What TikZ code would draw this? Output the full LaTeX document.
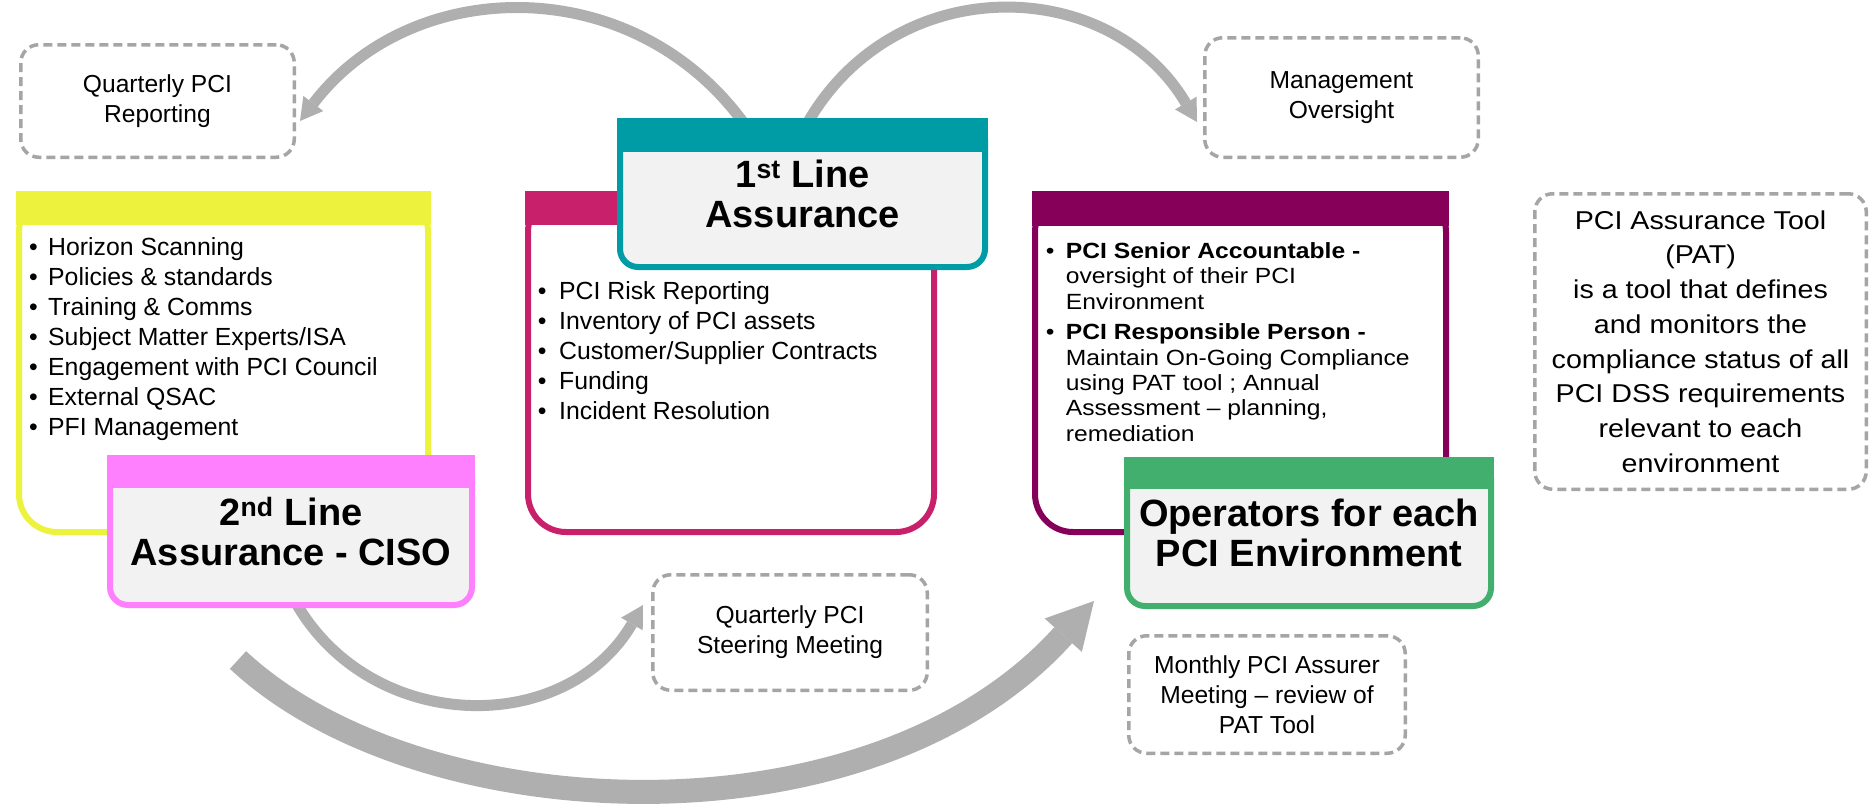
\documentclass[tikz,border=0pt]{standalone}
\usepackage{fontspec}
\setmainfont{Liberation Sans}
\newfontfamily\stretchA[FakeStretch=1.12]{Liberation Sans}
\newfontfamily\stretchB[FakeStretch=1.11]{Liberation Sans}
\usetikzlibrary{arrows.meta}
\definecolor{cyellow}{HTML}{EDF23C}
\definecolor{cpink}{HTML}{FF80FF}
\definecolor{cmagenta}{HTML}{C8206A}
\definecolor{cteal}{HTML}{009CA6}
\definecolor{cpurple}{HTML}{86005A}
\definecolor{cgreen}{HTML}{43AF6E}
\definecolor{carrow}{HTML}{AFAFAF}
\definecolor{cdash}{HTML}{A5A5A5}
\definecolor{ctitle}{HTML}{F2F2F2}
\newcommand{\ylbullet}{\makebox[19pt][l]{\textbullet}}
\newcommand{\mgbullet}{\makebox[21.3pt][l]{\textbullet}}
\newcommand{\ppbullet}{\makebox[20pt][l]{\textbullet}}
\pgfdeclarelayer{bg}
\pgfsetlayers{bg,main}
\begin{document}
\begin{tikzpicture}[x=1pt,y=-1pt,
  contentbox/.style={rectangle, draw=#1, line width=6pt, fill=white, rounded corners=38pt, inner sep=0pt},
  titlebox/.style={rectangle, draw=#1, line width=6pt, fill=ctitle, rounded corners=18pt, inner sep=0pt, align=center, font=\fontsize{38}{40.5}\selectfont\bfseries},
  dashbox/.style={rectangle, draw=cdash, line width=3.5pt, dash pattern=on 9pt off 5pt, rounded corners=18pt, inner sep=0pt, align=center, font=\fontsize{24.6}{30}\selectfont},
  listtext/.style={anchor=north west, inner sep=0pt, align=left},
  flow/.style={draw=carrow, line width=11pt, -{Triangle[width=25pt,length=22pt,line width=0pt]}},
  bigflow/.style={draw=carrow, line width=24pt, -{Triangle[width=50pt,length=46pt,line width=0pt]}},
]
\useasboundingbox (0,0) rectangle (1870,806);

% content boxes
\node[contentbox=cyellow, minimum width=409pt, minimum height=338pt] (yellowbox) at (223.5,363) {};
\fill[cyellow] (yellowbox.north west) rectangle ([yshift=-34pt]yellowbox.north east);
\node[contentbox=cmagenta, minimum width=406pt, minimum height=338pt] (magbox) at (731,363) {};
\fill[cmagenta] (magbox.north west) rectangle ([yshift=-34pt]magbox.north east);
\node[contentbox=cpurple, minimum width=411pt, minimum height=338pt] (purbox) at (1240.5,363) {};
\fill[cpurple] (purbox.north west) rectangle ([yshift=-35pt]purbox.north east);

\node[listtext, font=\fontsize{24.8}{30}\selectfont] (yellowtext) at (29,235) {\rule{0pt}{20pt}\ylbullet Horizon Scanning\\
\ylbullet Policies \& standards\\
\ylbullet Training \& Comms\\
\ylbullet Subject Matter Experts/ISA\\
\ylbullet Engagement with PCI Council\\
\ylbullet External QSAC\\
\ylbullet PFI Management};

\node[listtext, font=\fontsize{24.8}{30}\selectfont] (magtext) at (537.7,279.5) {\rule{0pt}{20pt}\mgbullet PCI Risk Reporting\\
\mgbullet Inventory of PCI assets\\
\mgbullet Customer/Supplier Contracts\\
\mgbullet Funding\\
\mgbullet Incident Resolution};

\node[listtext, font=\stretchA\fontsize{22}{25.3}\selectfont] (purtext) at (1045.7,238.3) {\rule{0pt}{20pt}\ppbullet\textbf{PCI Senior Accountable -}\\
\hspace*{20pt}oversight of their PCI\\
\hspace*{20pt}Environment\\[5.4pt]
\ppbullet\textbf{PCI Responsible Person -}\\
\hspace*{20pt}Maintain On-Going Compliance\\
\hspace*{20pt}using PAT tool ; Annual\\
\hspace*{20pt}Assessment – planning,\\
\hspace*{20pt}remediation};

% title boxes
\node[titlebox=cteal, minimum width=365pt, minimum height=146pt] (first) at (802.5,194) {1\textsuperscript{st} Line\\Assurance};
\fill[cteal] (first.north west) rectangle ([yshift=-34pt]first.north east);
\node[titlebox=cpink, minimum width=362pt, minimum height=147pt] (second) at (291,531.5) {2\textsuperscript{nd} Line\\Assurance - CISO};
\fill[cpink] (second.north west) rectangle ([yshift=-33pt]second.north east);
\node[titlebox=cgreen, minimum width=364pt, minimum height=146pt] (oper) at (1309,533) {Operators for each\\PCI Environment};
\fill[cgreen] (oper.north west) rectangle ([yshift=-32pt]oper.north east);

% dashed boxes
\node[dashbox, minimum width=273.5pt, minimum height=112.5pt] (qrep) at (157.5,101) {Quarterly PCI\\Reporting};
\node[dashbox, minimum width=273.5pt, minimum height=119.5pt] (mgmt) at (1341.5,97.5) {Management\\Oversight};
\node[dashbox, minimum width=274.5pt, minimum height=115.5pt] (steer) at (790,632.5) {Quarterly PCI\\Steering Meeting};
\node[dashbox, minimum width=276.5pt, minimum height=117.5pt] (monthly) at (1267,694.5) {Monthly PCI Assurer\\Meeting – review of\\PAT Tool};
\node[dashbox, minimum width=331.5pt, minimum height=295.5pt, font=\stretchB\fontsize{25.8}{34.7}\selectfont] (pat) at (1700.5,341.5) {PCI Assurance Tool\\(PAT)\\is a tool that defines\\and monitors the\\compliance status of all\\PCI DSS requirements\\relevant to each\\environment};

% arrows
\begin{pgfonlayer}{bg}
\fill[white] (0,0) rectangle (1870,806);
\draw[flow] ([shift={(-59.5pt,-4pt)}]first.north) .. controls (631,-30) and (411,-25) .. ([shift={(4pt,-20pt)}]qrep.east);
\draw[flow] ([shift={(5.5pt,-4pt)}]first.north) .. controls (897,-31) and (1110,-25) .. ([shift={(-6pt,-24.5pt)}]mgmt.west);
\draw[flow] ([shift={(5pt,5pt)}]second.south) .. controls (372,735) and (566,737) .. ([shift={(-8pt,27.5pt)}]steer.west);
\draw[bigflow] ([shift={(-53pt,-52pt)}]second.south) .. controls (420,830) and (870,850) .. ([shift={(-30pt,8pt)}]oper.south west);
\end{pgfonlayer}
\end{tikzpicture}
\end{document}
